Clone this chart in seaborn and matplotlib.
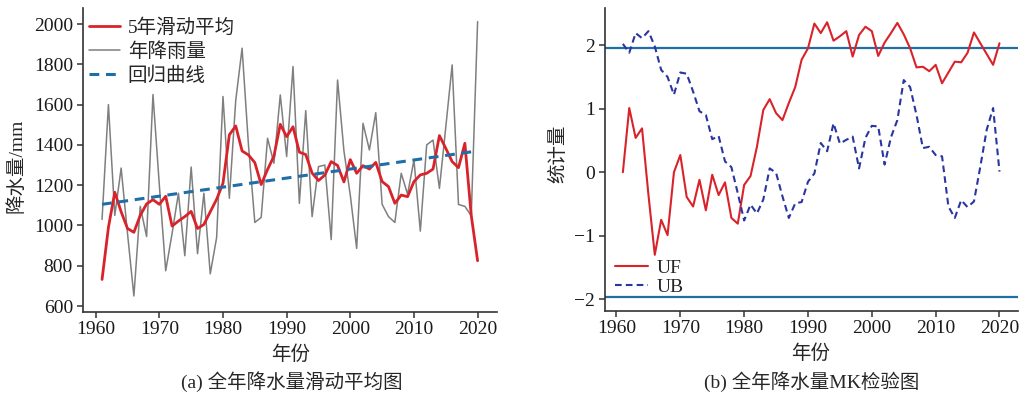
import numpy as np
import pandas as pd
import matplotlib
matplotlib.use("Agg")
import matplotlib.pyplot as plt
import seaborn as sns

# ---------------- data ----------------
years = list(range(1961, 2021))

annual_rain = [1030, 1600, 1050, 1285, 960, 650, 1095, 945, 1650, 1200,
               775, 960, 1160, 850, 1290, 860, 1160, 760, 940, 1640,
               1135, 1620, 1880, 1400, 1015, 1040, 1433, 1309, 1648, 1342,
               1789, 1110, 1570, 1044, 1292, 1300, 930, 1722, 1370, 1150,
               886, 1507, 1375, 1560, 1105, 1044, 1015, 1259, 1155, 1325,
               972, 1400, 1424, 1184, 1488, 1797, 1104, 1095, 1048, 2012]

moving_avg = [732, 990, 1165, 1068, 985, 966, 1050, 1107, 1128, 1105,
              1145, 997, 1022, 1044, 1070, 985, 1005, 1068, 1130, 1210,
              1450, 1494, 1370, 1350, 1312, 1203, 1278, 1344, 1502, 1441,
              1490, 1364, 1352, 1260, 1223, 1250, 1317, 1298, 1216, 1327,
              1259, 1297, 1280, 1313, 1218, 1193, 1110, 1151, 1143, 1218,
              1251, 1259, 1280, 1446, 1383, 1317, 1287, 1408, 1050, 825]

reg_years = [1961, 2020]
reg_values = [1105, 1370]

uf = [0.0, 1.01, 0.54, 0.69, -0.35, -1.30, -0.75, -0.99, 0.0, 0.27,
      -0.39, -0.54, -0.12, -0.60, -0.04, -0.36, -0.16, -0.72, -0.81, -0.20,
      -0.06, 0.40, 0.98, 1.15, 0.93, 0.82, 1.09, 1.34, 1.77, 1.95,
      2.34, 2.19, 2.36, 2.07, 2.14, 2.22, 1.82, 2.16, 2.29, 2.22,
      1.83, 2.04, 2.19, 2.35, 2.17, 1.95, 1.65, 1.66, 1.59, 1.69,
      1.40, 1.57, 1.74, 1.73, 1.88, 2.20, 2.03, 1.86, 1.69, 2.03]

ub = [2.02, 1.88, 2.19, 2.11, 2.22, 1.98, 1.61, 1.50, 1.22, 1.57,
      1.55, 1.27, 0.96, 0.90, 0.52, 0.57, 0.17, 0.08, -0.33, -0.76,
      -0.51, -0.65, -0.43, 0.06, -0.01, -0.38, -0.72, -0.49, -0.47, -0.15,
      -0.02, 0.46, 0.33, 0.77, 0.45, 0.51, 0.56, 0.06, 0.54, 0.73,
      0.72, 0.12, 0.55, 0.82, 1.45, 1.34, 0.90, 0.38, 0.40, 0.27,
      0.25, -0.54, -0.72, -0.44, -0.55, -0.46, 0.09, 0.67, 1.01, 0.01]

crit_values = [1.96, -1.96]

left_yticks = [600, 800, 1000, 1200, 1400, 1600, 1800, 2000]
xticks = [1960, 1970, 1980, 1990, 2000, 2010, 2020]
right_yticks = [-2, -1, 0, 1, 2]

df_left = pd.DataFrame({"year": years, "rain": annual_rain, "ma": moving_avg})
df_reg = pd.DataFrame({"year": reg_years, "value": reg_values})
df_right = pd.DataFrame({"year": years, "UF": uf, "UB": ub})

# ---------------- style ----------------
sns.set_theme(style="ticks")
plt.rcParams["font.family"] = ["Liberation Serif", "Noto Sans CJK SC", "DejaVu Sans"]
plt.rcParams["axes.unicode_minus"] = True

RED = "#d9232b"
GREY = "#7f7f7f"
BLUE = "#1f6ea6"
NAVY = "#2a36a0"
SPINE = "#333333"

fig = plt.figure(figsize=(10.22, 3.94), dpi=100)
W, H = 1022, 394

def px_axes(x0, x1, ytop, ybot):
    return fig.add_axes([x0 / W, 1 - ybot / H, (x1 - x0) / W, (ybot - ytop) / H])

ax1 = px_axes(82.7, 496.7, 8.3, 311.7)
ax2 = px_axes(605, 1018, 8.3, 310.7)

# ---- left panel ----
sns.lineplot(data=df_left, x="year", y="ma", ax=ax1, color=RED, lw=2.0,
             label="5年滑动平均", zorder=3)
sns.lineplot(data=df_left, x="year", y="rain", ax=ax1, color=GREY, lw=1.1,
             label="年降雨量", zorder=2)
sns.lineplot(data=df_reg, x="year", y="value", ax=ax1, color=BLUE, lw=2.2,
             linestyle=(0, (3.2, 2.2)), label="回归曲线", zorder=4)
ax1.set_xlim(1957.96, 2023.0)
ax1.set_ylim(572, 2078)
ax1.set_xticks(xticks)
ax1.set_yticks(left_yticks)
ax1.set_xlabel("年份", fontsize=14)
ax1.set_ylabel("降水量/mm", fontsize=14)
ax1.xaxis.set_label_coords(0.503, -0.11)
ax1.yaxis.set_label_coords(-0.138, 0.48)
ax1.legend(loc="upper left", bbox_to_anchor=(0.015, 0.968), frameon=False,
           fontsize=14, handlelength=1.6, handletextpad=0.4,
           labelspacing=0.3, borderaxespad=0, borderpad=0)

# ---- right panel ----
for c in crit_values:
    ax2.axhline(c, color=BLUE, lw=1.6, zorder=1)
sns.lineplot(data=df_right, x="year", y="UF", ax=ax2, color=RED, lw=1.5,
             label="UF", zorder=3)
sns.lineplot(data=df_right, x="year", y="UB", ax=ax2, color=NAVY, lw=1.5,
             linestyle=(0, (3.2, 2.0)), label="UB", zorder=3)
ax2.set_xlim(1958.2, 2022.9)
ax2.set_ylim(-2.18, 2.58)
ax2.set_xticks(xticks)
ax2.set_yticks(right_yticks)
ax2.set_xlabel("年份", fontsize=14)
ax2.set_ylabel("统计量", fontsize=14)
ax2.xaxis.set_label_coords(0.498, -0.112)
ax2.yaxis.set_label_coords(-0.092, 0.52)
ax2.legend(loc="lower left", bbox_to_anchor=(0.025, 0.048), frameon=False,
           fontsize=14, handlelength=1.7, handletextpad=0.4,
           labelspacing=0.08, borderaxespad=0, borderpad=0)

for ax in (ax1, ax2):
    sns.despine(ax=ax)
    for s in ("left", "bottom"):
        ax.spines[s].set_color(SPINE)
        ax.spines[s].set_linewidth(1.2)
    ax.tick_params(axis="both", labelsize=14, length=4, width=1.1,
                   color=SPINE, pad=3, labelcolor="#1a1a1a")
    ax.grid(False)

fig.text(291.7 / W, 1 - 381.5 / H, "(a) 全年降水量滑动平均图", ha="center",
         va="center", fontsize=14)
fig.text(812 / W, 1 - 381.5 / H, "(b) 全年降水量MK检验图", ha="center",
         va="center", fontsize=14)

fig.savefig("out.png", dpi=100)
